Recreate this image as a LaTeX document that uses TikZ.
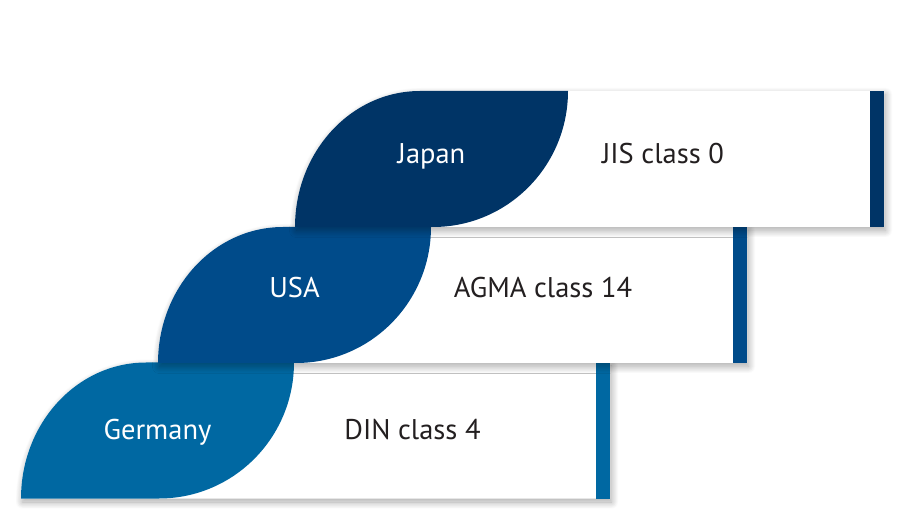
\documentclass[tikz,border=0pt]{standalone}
\usepackage{fontspec}
\setmainfont{PT Sans}
\usetikzlibrary{shadows.blur}
\definecolor{JapC}{HTML}{003466}
\definecolor{UsaC}{HTML}{004B8A}
\definecolor{GerC}{HTML}{0068A2}
\definecolor{txtC}{HTML}{231F20}
\tikzset{
  cardbox/.style={fill=white, blur shadow={shadow xshift=1.5pt, shadow yshift=-3.5pt, shadow blur radius=7pt, shadow blur steps=25, shadow opacity=35}},
  countrytxt/.style={text=white, font=\fontsize{28.5}{33}\selectfont, anchor=base, inner sep=0pt},
  stdtxt/.style={text=txtC, font=\fontsize{28.5}{33}\selectfont, anchor=base, inner sep=0pt},
}
\begin{document}
\begin{tikzpicture}[x=1pt,y=1pt]
\useasboundingbox (0,0) rectangle (900,520);
% rows: bottom (Germany) first so upper rows lie on top
\foreach \L/\B/\bar/\col/\ctry/\std/\sx/\base/\nm in {
  21/21.5/596/GerC/Germany/DIN class 4/412.5/81/ger,
  158/157/733/UsaC/USA/AGMA class 14/543/222/usa,
  295/293/870/JapC/Japan/JIS class 0/663/356/jap}{
  \pgfmathsetmacro{\T}{\B+136}
  \pgfmathsetmacro{\R}{\bar+14}
  % card outline (leaf + box) with shadow
  \fill[cardbox] (\L,\B) -- (\R,\B) -- (\R,\T) -- ({\L+125},\T)
     arc[start angle=90, end angle=180, x radius=125, y radius=136] -- cycle;
  \fill[\col] (\bar,\B) rectangle (\R,\T);
  \fill[\col] (\L,\B) -- ({\L+138},\B)
     arc[start angle=-90, end angle=0, x radius=135, y radius=136]
     -- ({\L+125},\T)
     arc[start angle=90, end angle=180, x radius=125, y radius=136] -- cycle;
  \node[countrytxt] (c-\nm) at ({\L+136.5},\base) {\ctry};
  \node[stdtxt] (s-\nm) at (\sx,\base) {\std};
}
\end{tikzpicture}
\end{document}
